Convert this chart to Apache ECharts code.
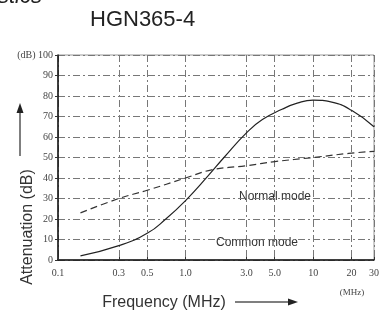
<!DOCTYPE html>
<html>
<head>
<meta charset="utf-8">
<script src="https://cdn.jsdelivr.net/npm/echarts@6/dist/echarts.min.js"></script>
<style>
  html, body { margin: 0; padding: 0; background: #fff; }
  #chart { width: 384px; height: 316px; }
</style>
</head>
<body>
<div id="chart"></div>
<script>
  // ticks on the log frequency axis (MHz)
  var freqTicks = [0.1, 0.3, 0.5, 1, 3, 5, 10, 20, 30];
  var freqLabels = {0.1: '0.1', 0.3: '0.3', 0.5: '0.5', 1: '1.0', 3: '3.0', 5: '5.0', 10: '10', 20: '20', 30: '30'};

  // solid curve  [MHz, dB]
  var solidFreq = [0.15, 0.3, 0.5, 0.7, 1.0, 1.5, 2.0, 3.0, 4.0, 5.7, 7.5, 10, 14, 20, 30];
  var solidDb   = [2, 7, 13, 20, 29, 41, 50, 62, 68.5, 73.5, 76.5, 78, 77, 73, 65];

  // dashed curve [MHz, dB]
  var dashFreq = [0.15, 0.3, 0.5, 1.0, 1.6, 3.0, 5.0, 10, 19, 30];
  var dashDb   = [23, 30, 34, 40, 44, 46, 48, 50, 52, 53];

  function pairs(xs, ys){ return xs.map(function(x, i){ return [x, ys[i]]; }); }

  var chart = echarts.init(document.getElementById('chart'), null, { renderer: 'canvas' });
  var serif = 'Liberation Serif';
  var gridStyle = { show: true, lineStyle: { color: '#777', width: 1, type: [7, 3, 2, 3] } };

  chart.setOption({
    animation: false,
    grid: { left: 58, right: 10, top: 55, bottom: 56, show: true, borderColor: '#999', borderWidth: 1 },
    xAxis: {
      type: 'log', logBase: 10, min: 0.1, max: 30,
      axisLine: { show: true, lineStyle: { color: '#111', width: 1.5 } },
      axisTick: { show: true, inside: true, length: 3, customValues: freqTicks, lineStyle: { color: '#333' } },
      axisLabel: { customValues: freqTicks, margin: 8, color: '#444', fontFamily: serif, fontSize: 10,
        formatter: function(v){ return freqLabels[v] || v; } },
      splitLine: gridStyle,
      minorSplitLine: { show: false }
    },
    yAxis: {
      type: 'value', min: 0, max: 100, interval: 10,
      axisLine: { show: true, lineStyle: { color: '#111', width: 1.5 } },
      axisTick: { show: true, inside: false, length: 3, lineStyle: { color: '#333' } },
      axisLabel: { margin: 5, color: '#444', fontFamily: serif, fontSize: 10,
        formatter: function(v){ return v === 100 ? '(dB) 100' : v; } },
      splitLine: gridStyle
    },
    series: [
      { type: 'line', data: pairs(solidFreq, solidDb), smooth: 0.5, symbol: 'none',
        lineStyle: { color: '#222', width: 1.2 } },
      { type: 'line', data: pairs(dashFreq, dashDb), smooth: 0.4, symbol: 'none',
        lineStyle: { color: '#333', width: 1.2, type: [7, 4] } }
    ],
    graphic: [
      { type: 'text', left: 90, top: 9, style: { text: 'HGN365-4', font: '22px "Liberation Sans"', fill: '#222' } },
      { type: 'text', x: 42, y: 8, style: { text: 'Characteristics', font: 'italic 22px "Liberation Sans"', fill: '#222', align: 'right', verticalAlign: 'bottom' } },
      { type: 'text', x: 28, y: 227, rotation: Math.PI / 2,
        style: { text: 'Attenuation (dB)', font: '16px "Liberation Sans"', fill: '#333', align: 'center', verticalAlign: 'middle' } },
      { type: 'line', shape: { x1: 20, y1: 156, x2: 20, y2: 110 }, style: { stroke: '#555', lineWidth: 1.5 } },
      { type: 'polygon', shape: { points: [[20, 103], [16.5, 113], [23.5, 113]] }, style: { fill: '#222' } },
      { type: 'text', x: 164, y: 303,
        style: { text: 'Frequency (MHz)', font: '16px "Liberation Sans"', fill: '#333', align: 'center', verticalAlign: 'middle' } },
      { type: 'line', shape: { x1: 235, y1: 302, x2: 290, y2: 302 }, style: { stroke: '#555', lineWidth: 1.5 } },
      { type: 'polygon', shape: { points: [[298, 302], [288, 298.5], [288, 305.5]] }, style: { fill: '#222' } },
      { type: 'text', x: 352, y: 293,
        style: { text: '(MHz)', font: '9px "Liberation Serif"', fill: '#444', align: 'center', verticalAlign: 'middle' } },
      { type: 'text', x: 275, y: 197,
        style: { text: 'Normal mode', font: '12px "Liberation Sans"', fill: '#333', align: 'center', verticalAlign: 'middle', backgroundColor: '#fff' } },
      { type: 'text', x: 257, y: 243,
        style: { text: 'Common mode', font: '12px "Liberation Sans"', fill: '#333', align: 'center', verticalAlign: 'middle', backgroundColor: '#fff' } }
    ]
  });
</script>
</body>
</html>
